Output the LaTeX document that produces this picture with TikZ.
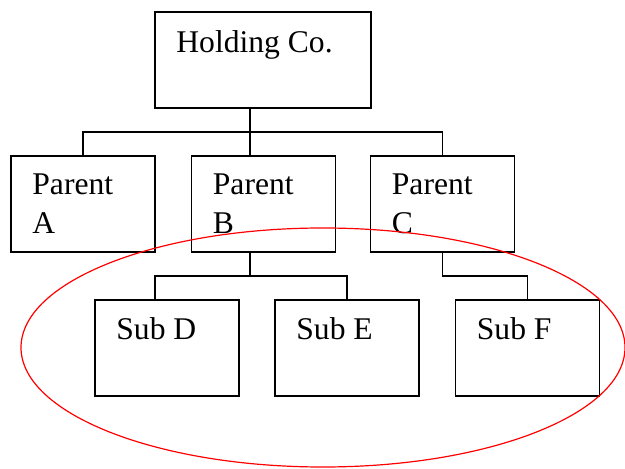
\documentclass[tikz,border=0pt]{standalone}
\usepackage{fontspec}
\setmainfont{Liberation Serif}
\usetikzlibrary{calc}
\tikzset{
    box/.style = {
        draw,
        line width=0.9pt,
        minimum width=72pt,
        minimum height=48pt,
        inner sep=0pt,
        outer sep=0pt,
        },
    wide box/.style = {
        box,
        minimum width=108pt,
        },
    box text/.style = {
        anchor=base west,
        inner sep=0pt,
        align=left,
        font=\fontsize{15.8}{19.5}\selectfont,
        },
    link/.style = {
        draw,
        line width=0.9pt,
        },
    group/.style = {
        draw=red,
        line width=0.6pt,
        },
}

\begin{document}
\begin{tikzpicture}[x=0.5pt,y=-0.5pt]
    \useasboundingbox (0,0) rectangle (625,469);

    \node[wide box] (hold) at (263,60) {};
    \node[box] (pa) at (83,204) {};
    \node[box] (pb) at (263.5,204) {};
    \node[box] (pc) at (442.5,204) {};
    \node[box] (sd) at (167,348) {};
    \node[box] (se) at (347,348) {};
    \node[box] (sf) at (527.5,348) {};

    % text sits at the top left of each box
    \node[box text] (hold text) at ([shift={(21,41)}]hold.north west) {Holding Co.};
    \node[box text] (pa text) at ([shift={(21,78)}]pa.north west) {Parent\\A};
    \node[box text] (pb text) at ([shift={(21,78)}]pb.north west) {Parent\\B};
    \node[box text] (pc text) at ([shift={(21,78)}]pc.north west) {Parent\\C};
    \node[box text] (sd text) at ([shift={(21,40)}]sd.north west) {Sub D};
    \node[box text] (se text) at ([shift={(21,40)}]se.north west) {Sub E};
    \node[box text] (sf text) at ([shift={(21,40)}]sf.north west) {Sub F};

    \coordinate (top fork) at (250,132);
    \coordinate (b fork) at (250,276);
    \coordinate (c fork) at (443,276);
    \coordinate (d drop) at (155,300);

    \path[link] (hold.south -| top fork) -- (top fork);
    \path[link] (pa.north) |- (top fork) -| (pc.north);
    \path[link] (top fork) -- (pb.north -| top fork);
    \path[link] (pb.south -| b fork) -- (b fork);
    \path[link] (d drop) |- (b fork) -| (se.north);
    \path[link] (pc.south) |- (c fork) -| (sf.north);

    \draw[group] (323,347.5) ellipse [x radius=151pt, y radius=59.75pt];
\end{tikzpicture}
\end{document}
